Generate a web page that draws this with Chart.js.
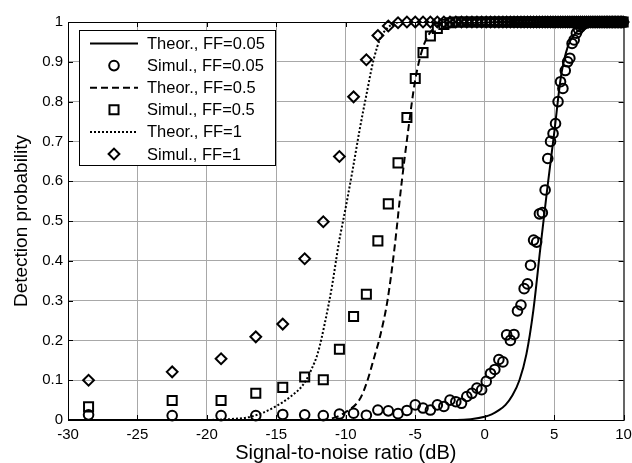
<!DOCTYPE html>
<html>
<head>
<meta charset="utf-8">
<script src="https://cdn.jsdelivr.net/npm/chart.js@4/dist/chart.umd.min.js"></script>
<style>
  body { margin: 0; background: #fff; }
  #wrap { width: 632px; height: 463px; }
</style>
</head>
<body>
<div id="wrap"><canvas id="pdChart" width="632" height="463"></canvas></div>
<script>
(function () {
  // SNR of each simulation run (dB)
  const snrDb = [
    -28.52, -22.50, -18.98, -16.48, -14.54, -12.96, -11.62, -10.46, -9.44, -8.52,
    -7.69, -6.94, -6.24, -5.60, -5.00, -4.44, -3.91, -3.41, -2.94, -2.50,
    -2.08, -1.67, -1.29, -0.92, -0.56, -0.22, 0.11, 0.42, 0.73, 1.02,
    1.31, 1.58, 1.85, 2.11, 2.36, 2.61, 2.84, 3.08, 3.30, 3.52,
    3.74, 3.94, 4.15, 4.35, 4.54, 4.74, 4.92, 5.10, 5.28, 5.46,
    5.63, 5.80, 5.97, 6.13, 6.29, 6.44, 6.60, 6.75, 6.90, 7.04,
    7.19, 7.33, 7.47, 7.60, 7.74, 7.87, 8.00, 8.13, 8.26, 8.38,
    8.51, 8.63, 8.75, 8.86, 8.98, 9.10, 9.21, 9.32, 9.43, 9.54,
    9.65, 9.76, 9.86, 9.97
  ];

  // simulated detection probability, one value per snrDb entry
  const simFF005 = [
    0.013, 0.011, 0.011, 0.011, 0.014, 0.013, 0.011, 0.015, 0.017, 0.012,
    0.025, 0.023, 0.016, 0.024, 0.038, 0.030, 0.025, 0.038, 0.034, 0.050,
    0.046, 0.042, 0.059, 0.067, 0.080, 0.076, 0.097, 0.117, 0.127, 0.152,
    0.146, 0.214, 0.200, 0.215, 0.274, 0.289, 0.330, 0.342, 0.389, 0.452,
    0.447, 0.518, 0.521, 0.578, 0.657, 0.700, 0.720, 0.745, 0.800, 0.850,
    0.833, 0.878, 0.900, 0.909, 0.946, 0.955, 0.972, 0.982, 0.988, 0.993,
    0.996, 0.998, 1, 1, 1, 1, 1, 1, 1, 1,
    1, 1, 1, 1, 1, 1, 1, 1, 1, 1,
    1, 1, 1, 1
  ];
  const simFF05 = [
    0.033, 0.049, 0.049, 0.067, 0.082, 0.108, 0.101, 0.178, 0.260, 0.316,
    0.450, 0.543, 0.646, 0.760, 0.858, 0.923, 0.965, 0.984, 0.994, 0.998,
    1, 1, 1, 1, 1, 1, 1, 1, 1, 1,
    1, 1, 1, 1, 1, 1, 1, 1, 1, 1,
    1, 1, 1, 1, 1, 1, 1, 1, 1, 1,
    1, 1, 1, 1, 1, 1, 1, 1, 1, 1,
    1, 1, 1, 1, 1, 1, 1, 1, 1, 1,
    1, 1, 1, 1, 1, 1, 1, 1, 1, 1,
    1, 1, 1, 1
  ];
  const simFF1 = [
    0.100, 0.121, 0.154, 0.209, 0.241, 0.405, 0.498, 0.662, 0.812, 0.905,
    0.966, 0.990, 0.998, 1, 1, 1, 1, 1, 1, 1,
    1, 1, 1, 1, 1, 1, 1, 1, 1, 1,
    1, 1, 1, 1, 1, 1, 1, 1, 1, 1,
    1, 1, 1, 1, 1, 1, 1, 1, 1, 1,
    1, 1, 1, 1, 1, 1, 1, 1, 1, 1,
    1, 1, 1, 1, 1, 1, 1, 1, 1, 1,
    1, 1, 1, 1, 1, 1, 1, 1, 1, 1,
    1, 1, 1, 1
  ];

  // theoretical curves
  const theoSnr005 = [-30, -2, -1, 0, 0.5, 1, 1.5, 2, 2.5, 3, 3.5, 4, 4.5, 5, 5.5, 6, 6.5, 7, 7.5, 8, 10];
  const theoFF005 = [0, 0, 0.002, 0.008, 0.014, 0.024, 0.038, 0.062, 0.10, 0.165, 0.275, 0.43, 0.58, 0.72, 0.865, 0.94, 0.97, 0.985, 0.995, 1, 1];
  const theoSnr05 = [-30, -12, -11, -10, -9, -8.5, -8, -7.5, -7, -6.5, -6, -5.5, -5, -4.5, -4, -3.5, -3, -2, 10];
  const theoFF05 = [0, 0, 0.004, 0.02, 0.052, 0.093, 0.152, 0.215, 0.30, 0.43, 0.59, 0.73, 0.855, 0.93, 0.97, 0.988, 0.996, 1, 1];
  const theoSnr1 = [-30, -20, -19, -18, -17, -16, -15, -14, -13, -12.5, -12, -11.5, -11, -10.5, -10, -9.5, -9, -8.5, -8, -7.5, -7, -6.5, -6, 10];
  const theoFF1 = [0, 0, 0.001, 0.003, 0.007, 0.018, 0.035, 0.058, 0.092, 0.125, 0.17, 0.245, 0.335, 0.445, 0.535, 0.63, 0.73, 0.82, 0.905, 0.96, 0.985, 0.996, 1, 1];

  const xTickLabels = ['-30', '-25', '-20', '-15', '-10', '-5', '0', '5', '10'];
  const yTickLabels = ['0', '0.1', '0.2', '0.3', '0.4', '0.5', '0.6', '0.7', '0.8', '0.9', '1'];
  const legendLabels = ['Theor., FF=0.05', 'Simul., FF=0.05', 'Theor., FF=0.5', 'Simul., FF=0.5', 'Theor., FF=1', 'Simul., FF=1'];

  const fontFamily = '"Liberation Sans", Arial, Helvetica, sans-serif';
  Chart.defaults.font.family = fontFamily;
  Chart.defaults.color = '#000';

  const pairs = (xs, ys) => xs.map((x, i) => ({x: x, y: ys[i]}));

  function theoLine(label, xs, ys, dash) {
    return {
      label: label,
      data: pairs(xs, ys),
      showLine: true,
      borderColor: '#000',
      borderWidth: 2,
      borderDash: dash,
      pointRadius: 0,
      pointHoverRadius: 0,
      cubicInterpolationMode: 'monotone',
      fill: false
    };
  }

  function simPoints(label, ys, style, radius, width) {
    return {
      label: label,
      data: pairs(snrDb, ys),
      showLine: false,
      pointStyle: style,
      pointRadius: radius,
      pointHoverRadius: radius,
      borderWidth: width,
      pointBorderWidth: width,
      borderColor: '#000',
      pointBorderColor: '#000',
      backgroundColor: 'rgba(0,0,0,0)',
      pointBackgroundColor: 'rgba(0,0,0,0)',
      clip: false
    };
  }

  function marker(ctx, style, r, x, y) {
    ctx.beginPath();
    if (style === 'circle') {
      ctx.arc(x, y, r, 0, Math.PI * 2);
    } else if (style === 'rect') {
      const s = Math.SQRT1_2 * r;
      ctx.rect(x - s, y - s, 2 * s, 2 * s);
    } else {
      ctx.moveTo(x - r, y);
      ctx.lineTo(x, y - r);
      ctx.lineTo(x + r, y);
      ctx.lineTo(x, y + r);
      ctx.closePath();
    }
    ctx.stroke();
  }

  // box + inward ticks, like the MATLAB axes
  const framePlugin = {
    id: 'frame',
    afterDatasetsDraw(chart) {
      const {ctx, chartArea: a, scales} = chart;
      ctx.save();
      ctx.strokeStyle = '#000';
      ctx.lineWidth = 1;
      ctx.setLineDash([]);
      ctx.strokeRect(a.left + 0.5, a.top + 0.5, a.right - a.left, a.bottom - a.top);
      ctx.beginPath();
      scales.x.ticks.forEach((t) => {
        const px = Math.round(scales.x.getPixelForValue(t.value)) + 0.5;
        ctx.moveTo(px, a.bottom); ctx.lineTo(px, a.bottom - 5);
        ctx.moveTo(px, a.top); ctx.lineTo(px, a.top + 5);
      });
      scales.y.ticks.forEach((t) => {
        const py = Math.round(scales.y.getPixelForValue(t.value)) + 0.5;
        ctx.moveTo(a.left, py); ctx.lineTo(a.left + 5, py);
        ctx.moveTo(a.right, py); ctx.lineTo(a.right - 5, py);
      });
      ctx.stroke();
      ctx.restore();
    }
  };

  const legendPlugin = {
    id: 'boxLegend',
    afterDraw(chart) {
      const ctx = chart.ctx;
      const box = {x: 79.5, y: 30.5, w: 196, h: 135};
      ctx.save();
      ctx.fillStyle = '#fff';
      ctx.fillRect(box.x, box.y, box.w, box.h);
      ctx.strokeStyle = '#000';
      ctx.lineWidth = 1;
      ctx.strokeRect(box.x, box.y, box.w, box.h);
      ctx.font = '16.5px ' + fontFamily;
      ctx.textBaseline = 'middle';
      ctx.textAlign = 'left';
      chart.data.datasets.forEach((ds, i) => {
        const cy = 43.5 + i * 22.1;
        ctx.strokeStyle = '#000';
        ctx.lineWidth = ds.borderWidth;
        if (ds.showLine) {
          ctx.setLineDash(ds.borderDash || []);
          ctx.beginPath();
          ctx.moveTo(90, cy);
          ctx.lineTo(138, cy);
          ctx.stroke();
        } else {
          ctx.setLineDash([]);
          marker(ctx, ds.pointStyle, ds.pointRadius, 114, cy);
        }
        ctx.fillStyle = '#000';
        ctx.fillText(ds.label, 147, cy + 1);
      });
      ctx.restore();
    }
  };

  const ctx = document.getElementById('pdChart').getContext('2d');
  new Chart(ctx, {
    type: 'scatter',
    data: {
      datasets: [
        theoLine(legendLabels[0], theoSnr005, theoFF005, []),
        simPoints(legendLabels[1], simFF005, 'circle', 4.8, 2),
        theoLine(legendLabels[2], theoSnr05, theoFF05, [7, 4]),
        simPoints(legendLabels[3], simFF05, 'rect', 6.4, 2),
        theoLine(legendLabels[4], theoSnr1, theoFF1, [2, 2]),
        simPoints(legendLabels[5], simFF1, 'rectRot', 5.4, 2)
      ]
    },
    options: {
      responsive: false,
      animation: false,
      events: [],
      layout: {padding: {top: 22, right: 7, left: 0, bottom: 0}},
      plugins: {
        legend: {display: false},
        tooltip: {enabled: false}
      },
      scales: {
        x: {
          type: 'linear',
          min: -30,
          max: 10,
          ticks: {
            stepSize: 5,
            padding: 6,
            font: {size: 15},
            maxRotation: 0,
            callback: (v, i) => xTickLabels[i]
          },
          grid: {color: '#a8a8a8', lineWidth: 1, drawTicks: false},
          border: {display: false},
          title: {
            display: true,
            text: 'Signal-to-noise ratio (dB)',
            font: {size: 20, lineHeight: 1},
            padding: {top: 0, bottom: 0}
          },
          afterFit: (scale) => {
            scale.height = 43;
            scale.paddingLeft = 0;
            scale.paddingRight = 0;
          }
        },
        y: {
          type: 'linear',
          min: 0,
          max: 1,
          ticks: {
            stepSize: 0.1,
            padding: 5,
            font: {size: 15},
            callback: (v, i) => yTickLabels[i]
          },
          grid: {color: '#a8a8a8', lineWidth: 1, drawTicks: false},
          border: {display: false},
          title: {
            display: true,
            text: 'Detection probability',
            font: {size: 19, lineHeight: 1},
            padding: {top: 12, bottom: 0}
          },
          afterFit: (scale) => {
            scale.width = 68;
            scale.paddingTop = 0;
            scale.paddingBottom = 0;
          }
        }
      }
    },
    plugins: [framePlugin, legendPlugin]
  });
})();
</script>
</body>
</html>
